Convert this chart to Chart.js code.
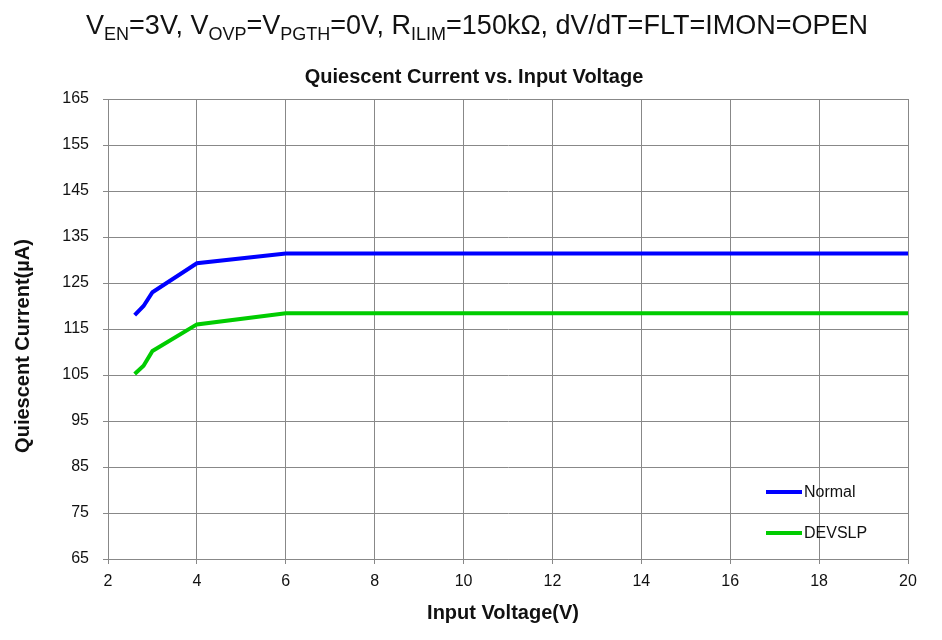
<!DOCTYPE html>
<html>
<head>
<meta charset="utf-8">
<script src="https://cdn.jsdelivr.net/npm/chart.js@4.4.1/dist/chart.umd.min.js"></script>
<style>
  html, body { margin: 0; padding: 0; background: #fff; }
  #wrap { position: relative; width: 942px; height: 640px; }
  #headline {
    position: absolute; left: 6px; top: 10px; width: 942px; text-align: center;
    font-family: "Liberation Sans", Arial, sans-serif; font-size: 27px; color: #111;
    white-space: nowrap;
  }
  #headline sub { font-size: 18px; vertical-align: -6px; line-height: 0; }
  canvas { position: absolute; left: 0; top: 0; }
</style>
</head>
<body>
<div id="wrap">
  <canvas id="qChart" width="942" height="640"></canvas>
  <div id="headline">V<sub>EN</sub>=3V, V<sub>OVP</sub>=V<sub>PGTH</sub>=0V, R<sub>ILIM</sub>=150kΩ, dV/dT=FLT=IMON=OPEN</div>
</div>
<script>
// Input voltage (V)
const voltages = [2.6, 2.8, 3.0, 4.0, 6.0, 8, 10, 12, 14, 16, 18, 20];
// Quiescent current (uA)
const normalCurrent = [118, 120, 123, 129.3, 131.4, 131.4, 131.4, 131.4, 131.4, 131.4, 131.4, 131.4];
const devslpCurrent = [105.2, 107, 110.2, 116, 118.4, 118.4, 118.4, 118.4, 118.4, 118.4, 118.4, 118.4];
const seriesNames = ['Normal', 'DEVSLP'];
const seriesColors = ['#0000ff', '#00cc00'];

const chartTitle = 'Quiescent Current vs. Input Voltage';
const xTitle = 'Input Voltage(V)';
const yTitle = 'Quiescent Current(µA)';

const FONT = '"Liberation Sans", Arial, sans-serif';
const GRID = '#888888';
const TEXT = '#111';

// titles placed by hand, the way the original sheet has them
const titles = {
    id: 'titles',
    afterDraw(chart) {
        const ctx = chart.ctx;
        const area = chart.chartArea;
        ctx.save();
        ctx.fillStyle = TEXT;
        ctx.textAlign = 'center';
        ctx.textBaseline = 'middle';
        ctx.font = 'bold 20px ' + FONT;
        ctx.fillText(chartTitle, 474, area.top - 22);
        ctx.fillText(xTitle, 503, area.bottom + 54);
        ctx.translate(23, 346);
        ctx.rotate(-Math.PI / 2);
        ctx.fillText(yTitle, 0, 0);
        ctx.restore();
    }
};

// legend drawn inside the plot, bottom right
const insideLegend = {
    id: 'insideLegend',
    afterDatasetsDraw(chart) {
        const ctx = chart.ctx;
        const area = chart.chartArea;
        ctx.save();
        ctx.font = '16px ' + FONT;
        ctx.textBaseline = 'middle';
        ctx.textAlign = 'left';
        chart.data.datasets.forEach((ds, i) => {
            const y = area.bottom - 67 + i * 41;
            const x0 = area.right - 142;
            ctx.strokeStyle = ds.borderColor;
            ctx.lineWidth = ds.borderWidth;
            ctx.beginPath();
            ctx.moveTo(x0, y);
            ctx.lineTo(x0 + 36, y);
            ctx.stroke();
            ctx.fillStyle = TEXT;
            ctx.fillText(ds.label, x0 + 38, y + 1);
        });
        ctx.restore();
    }
};

const ctx = document.getElementById('qChart');
new Chart(ctx, {
    type: 'line',
    data: {
        datasets: [
            {
                label: seriesNames[0],
                data: voltages.map((v, i) => ({ x: v, y: normalCurrent[i] })),
                borderColor: seriesColors[0],
                borderWidth: 4,
                pointRadius: 0,
                tension: 0
            },
            {
                label: seriesNames[1],
                data: voltages.map((v, i) => ({ x: v, y: devslpCurrent[i] })),
                borderColor: seriesColors[1],
                borderWidth: 4,
                pointRadius: 0,
                tension: 0
            }
        ]
    },
    options: {
        responsive: false,
        animation: false,
        layout: { padding: { left: 0, right: 34, top: 99, bottom: 0 } },
        plugins: {
            legend: { display: false },
            tooltip: { enabled: false },
            title: { display: false }
        },
        scales: {
            x: {
                type: 'linear',
                min: 2,
                max: 20,
                ticks: { stepSize: 2, color: TEXT, font: { family: FONT, size: 16 }, padding: 8, maxRotation: 0 },
                grid: { color: GRID, lineWidth: 1, tickLength: 5, tickColor: GRID },
                border: { color: GRID, width: 1 },
                afterFit(scale) { scale.height = 81; }
            },
            y: {
                min: 65,
                max: 165,
                ticks: { stepSize: 10, color: TEXT, font: { family: FONT, size: 16 }, padding: 14 },
                grid: { color: GRID, lineWidth: 1, tickLength: 5, tickColor: GRID },
                border: { color: GRID, width: 1 },
                afterFit(scale) { scale.width = 108; }
            }
        }
    },
    plugins: [insideLegend, titles]
});
</script>
</body>
</html>
